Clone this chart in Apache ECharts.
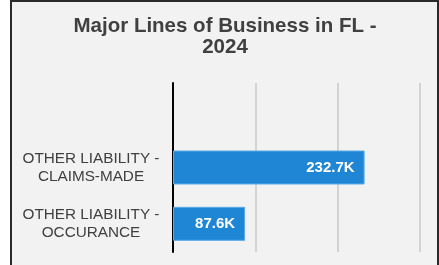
<!DOCTYPE html>
<html>
<head>
<meta charset="utf-8">
<script src="https://cdn.jsdelivr.net/npm/echarts@6/dist/echarts.min.js"></script>
<style>
  html, body { margin: 0; padding: 0; background: #ffffff; }
  #frame { position: absolute; left: 10px; top: 0px; width: 425px; height: 280px;
           border-left: 2px solid #2a2a2a; border-top: 2px solid #2a2a2a; border-right: 2px solid #2a2a2a;
           background: #f2f2f2; }
  #chart { position: absolute; left: 11px; top: 0px; width: 428px; height: 265px; }
</style>
</head>
<body>
<div id="frame"></div>
<div id="chart"></div>
<script>
const titleText = 'Major Lines of Business in FL -\n2024';
const categories = ['', 'OTHER LIABILITY -\nCLAIMS-MADE', 'OTHER LIABILITY -\nOCCURANCE'];
const values = [null, 232700, 87600];
const axisMin = 0, axisMax = 300000, axisStep = 100000;

const chart = echarts.init(document.getElementById('chart'), null, { renderer: 'canvas' });
chart.setOption({
  backgroundColor: 'transparent',
  animation: false,
  title: {
    text: titleText,
    left: 'center',
    top: 16,
    padding: 0,
    textStyle: { fontFamily: 'Liberation Sans, Arial, sans-serif', fontSize: 20.5, fontWeight: 'bold', color: '#404040', lineHeight: 21 }
  },
  grid: { left: 162, right: 19, top: 83, bottom: 13, containLabel: false },
  xAxis: {
    type: 'value', min: axisMin, max: axisMax, interval: axisStep,
    axisLabel: { show: false }, axisTick: { show: false }, axisLine: { show: false },
    splitLine: { show: true, lineStyle: { color: '#c8c8c8', width: 1.5 } }
  },
  yAxis: {
    type: 'category', data: categories, inverse: true,
    axisLine: { show: true, lineStyle: { color: '#000', width: 2 } },
    axisTick: { show: false },
    axisLabel: { margin: 82, align: 'center', fontFamily: 'Liberation Sans, Arial, sans-serif', fontSize: 15.3, color: '#404040', lineHeight: 18 }
  },
  series: [{
    type: 'bar', data: values, barWidth: 34,
    itemStyle: { color: '#1f86d6', borderColor: '#5aaae8', borderWidth: 1 },
    label: {
      show: true, position: 'insideRight', distance: 10,
      formatter: p => (p.value / 1000).toFixed(1) + 'K',
      fontFamily: 'Liberation Sans, Arial, sans-serif', fontSize: 15, fontWeight: 'bold', color: '#fff'
    }
  }]
});
</script>
</body>
</html>
